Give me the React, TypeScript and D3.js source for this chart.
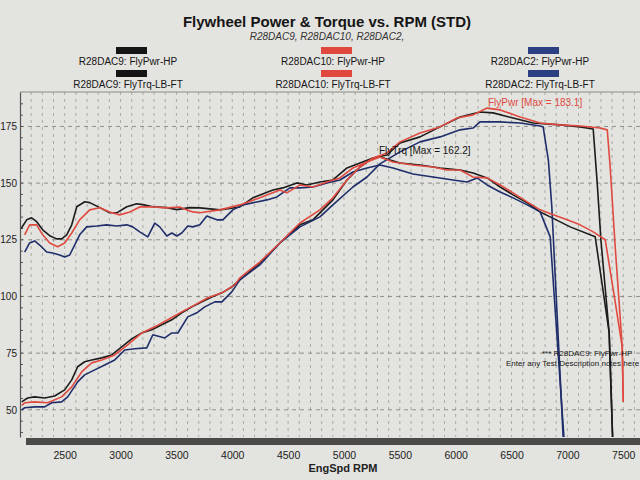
import React, { useEffect, useRef } from "react";
import * as d3 from "d3";

type Pt = [number, number];

// rpm, value pairs
const dac9Pwr: Pt[] = [
  [2115, 53.5], [2168, 55.2], [2231, 55.7], [2321, 55.2], [2410, 56.1], [2500, 58.8],
  [2563, 63.2], [2616, 69], [2679, 71.2], [2742, 72], [2832, 72.9], [2921, 74.2],
  [3011, 77.8], [3100, 81.3], [3190, 83.9], [3280, 85.3], [3369, 87.5], [3459, 89.7],
  [3548, 92.8], [3638, 95.4], [3728, 97.6], [3817, 99.8], [3907, 101.6], [3996, 104.2],
  [4068, 107.3], [4247, 114.8], [4426, 123.6], [4606, 131.6], [4722, 133.8], [4901, 142.6],
  [5027, 151.4], [5143, 157.1], [5260, 161.1], [5385, 162.4], [5502, 167.7], [5681, 170.4],
  [5860, 174.8], [6039, 179.2], [6218, 181.4], [6335, 181], [6514, 178.7], [6693, 176.5],
  [6935, 175.7], [7114, 174.8], [7231, 173.9], [7267, 150], [7300, 125], [7374, 84], [7410, 30],
];
const dac9Trq: Pt[] = [
  [2110, 130], [2160, 133.8], [2204, 134.7], [2249, 133], [2303, 129.4], [2366, 126.8],
  [2428, 125.4], [2473, 125.4], [2518, 127.2], [2563, 131.6], [2608, 139.6], [2680, 141.8],
  [2724, 141.4], [2814, 139.2], [2903, 136.9], [2966, 136.9], [3056, 139.6], [3145, 140.9],
  [3199, 140.5], [3289, 139.6], [3414, 139.2], [3504, 138.3], [3620, 139.2], [3710, 139.1],
  [3889, 138.2], [4068, 139.5], [4184, 143.5], [4364, 147], [4453, 147.9], [4579, 150.1],
  [4668, 149.2], [4785, 150.5], [4901, 151.4], [5027, 156.7], [5143, 158.9], [5260, 161.1],
  [5322, 161.5], [5502, 158.9], [5681, 158], [5860, 156.7], [6039, 155.8], [6156, 154.5],
  [6281, 152.3], [6398, 148.3], [6514, 144.8], [6640, 141.3], [6756, 137.3], [6846, 135.1],
  [7025, 130.7], [7249, 126.3], [7374, 84], [7410, 30],
];
const dac10Pwr: Pt[] = [
  [2115, 52], [2142, 53.1], [2231, 53.5], [2348, 53.1], [2473, 55.7], [2563, 60.1],
  [2652, 66.7], [2742, 70.7], [2832, 72], [2948, 74.2], [3064, 78.6], [3190, 83.9],
  [3306, 86.6], [3423, 89.7], [3548, 93.2], [3665, 96.3], [3781, 99.4], [3907, 101.6],
  [4023, 105.1], [4068, 108.2], [4247, 115.2], [4426, 123.6], [4606, 132.4], [4785, 138.2],
  [4901, 143.5], [5027, 151.4], [5143, 157.1], [5260, 161.1], [5385, 163.3], [5502, 168.2],
  [5681, 172.1], [5860, 174.8], [6012, 178.7], [6156, 180.1], [6281, 183.1], [6398, 182.3],
  [6577, 179.2], [6756, 176.5], [6935, 175.7], [7114, 175.2], [7294, 174.3], [7357, 173.5],
  [7383, 157.1], [7428, 121.9], [7491, 77.8], [7500, 53.5],
];
const dac10Trq: Pt[] = [
  [2142, 127.2], [2186, 131.6], [2249, 131.6], [2303, 127.2], [2366, 123.6], [2437, 121.9],
  [2500, 123.6], [2563, 128], [2634, 133.8], [2724, 138.2], [2814, 139.1], [2903, 137.3],
  [2993, 136], [3082, 137.3], [3172, 139.5], [3289, 139.5], [3414, 139.1], [3530, 139.5],
  [3593, 138.2], [3647, 137.3], [3710, 136.9], [3889, 138.2], [4068, 140.4], [4247, 143.5],
  [4426, 147], [4489, 145.7], [4606, 149.2], [4722, 148.3], [4848, 150.5], [4964, 152.3],
  [5080, 156.7], [5206, 159.3], [5322, 161.5], [5439, 159.3], [5618, 158], [5797, 157.1],
  [5923, 155.8], [6039, 155.8], [6156, 152.7], [6281, 152.3], [6398, 149.2], [6514, 145.7],
  [6640, 141.7], [6756, 138.2], [6873, 136], [6998, 133.8], [7114, 131.6], [7231, 128.5],
  [7339, 125], [7420, 100], [7491, 77.8], [7500, 53.5],
];
const dac2Pwr: Pt[] = [
  [2115, 50], [2142, 50.9], [2231, 51.3], [2321, 51.3], [2384, 53.1], [2473, 53.5],
  [2527, 55.7], [2616, 62.3], [2679, 65.4], [2769, 67.6], [2858, 69.8], [2948, 72],
  [3038, 76.4], [3127, 76.9], [3235, 77.3], [3289, 83.1], [3396, 81.7], [3459, 83.9],
  [3513, 83.9], [3602, 91], [3683, 92.8], [3754, 95.4], [3844, 97.6], [3907, 97.6],
  [3996, 102], [4068, 107.3], [4247, 113.9], [4426, 123.6], [4606, 130.7], [4785, 135.1],
  [4901, 140.4], [5080, 148.3], [5206, 152.7], [5322, 158.5], [5502, 163.8], [5681, 168.2],
  [5860, 170.4], [6039, 173.5], [6156, 174.3], [6218, 177], [6398, 177], [6577, 176.5],
  [6756, 175.2], [6783, 174.8], [6830, 160], [6860, 140], [6970, 30],
];
const dac2Trq: Pt[] = [
  [2142, 119.6], [2186, 123.6], [2231, 124.5], [2276, 122.7], [2339, 119.6], [2392, 119.2],
  [2455, 118.3], [2500, 117.4], [2545, 118.3], [2634, 127.2], [2697, 130.7], [2787, 131.1],
  [2876, 131.6], [2966, 131.1], [3056, 131.6], [3109, 130.7], [3172, 128.5], [3244, 126.3],
  [3306, 132.4], [3351, 130.7], [3414, 126.7], [3459, 128], [3504, 126.7], [3548, 128],
  [3602, 131.1], [3647, 130.7], [3710, 131.6], [3772, 135.5], [3862, 133.8], [3916, 133.8],
  [4005, 138.2], [4095, 140.4], [4220, 141.7], [4310, 142.6], [4399, 143.9], [4516, 147.9],
  [4606, 147.9], [4722, 148.3], [4848, 150.1], [4964, 151.4], [5080, 154.9], [5206, 156.7],
  [5322, 158], [5439, 156.7], [5618, 154], [5797, 152.7], [5976, 151.4], [6102, 150.5],
  [6191, 152.3], [6281, 149.2], [6398, 146.1], [6514, 143.5], [6640, 140.4], [6756, 137.3],
  [6846, 126.3], [6980, 30],
];

const xTicks = [2500, 3000, 3500, 4000, 4500, 5000, 5500, 6000, 6500, 7000, 7500];
const yTicks = [50, 75, 100, 125, 150, 175];

const BLACK = "#1c1c1c";
const RED = "#e04a40";
const BLUE = "#1f2e6b";

const series = [
  { data: dac9Trq, color: BLACK },
  { data: dac9Pwr, color: BLACK },
  { data: dac2Trq, color: BLUE },
  { data: dac2Pwr, color: BLUE },
  { data: dac10Trq, color: RED },
  { data: dac10Pwr, color: RED },
];

const legend = [
  { label: "R28DAC9: FlyPwr-HP", color: "#151515", col: 0, row: 0 },
  { label: "R28DAC9: FlyTrq-LB-FT", color: "#151515", col: 0, row: 1 },
  { label: "R28DAC10: FlyPwr-HP", color: "#e0473d", col: 1, row: 0 },
  { label: "R28DAC10: FlyTrq-LB-FT", color: "#e0473d", col: 1, row: 1 },
  { label: "R28DAC2: FlyPwr-HP", color: "#2b3f82", col: 2, row: 0 },
  { label: "R28DAC2: FlyTrq-LB-FT", color: "#2b3f82", col: 2, row: 1 },
];
const legendX = [130, 335, 542];

export default function App() {
  const ref = useRef<SVGSVGElement>(null);

  useEffect(() => {
    const svg = d3.select(ref.current);
    svg.selectAll("*").remove();

    const width = 640;
    const height = 480;
    const plot = { left: 20, right: 640, top: 92, bottom: 437 };

    const x = d3.scaleLinear().domain([2100, 7650]).range([plot.left, plot.right]);
    const y = d3.scaleLinear().domain([38, 190.2]).range([plot.bottom, plot.top]);

    svg.append("rect").attr("width", width).attr("height", height).attr("fill", "#e3e3df");

    // title block
    svg
      .append("text")
      .attr("x", 327)
      .attr("y", 27)
      .attr("text-anchor", "middle")
      .attr("font-family", "Liberation Sans, Arial, sans-serif")
      .attr("font-size", 15)
      .attr("font-weight", "bold")
      .attr("fill", "#151515")
      .text("Flywheel Power & Torque vs. RPM (STD)");
    svg
      .append("text")
      .attr("x", 327)
      .attr("y", 40)
      .attr("text-anchor", "middle")
      .attr("font-family", "Liberation Sans, Arial, sans-serif")
      .attr("font-size", 10)
      .attr("font-style", "italic")
      .attr("fill", "#333")
      .text("R28DAC9, R28DAC10, R28DAC2,");

    // legend
    const lg = svg
      .append("g")
      .attr("font-family", "Liberation Sans, Arial, sans-serif")
      .attr("font-size", 10);
    legend.forEach((d) => {
      const cx = legendX[d.col];
      const top = 47 + d.row * 23;
      lg.append("rect")
        .attr("x", cx - 14)
        .attr("y", top)
        .attr("width", 31)
        .attr("height", 7)
        .attr("fill", d.color);
      lg.append("text")
        .attr("x", cx - 2)
        .attr("y", top + 18)
        .attr("text-anchor", "middle")
        .attr("fill", "#151515")
        .text(d.label);
    });

    // grid
    const grid = svg.append("g").attr("stroke", "#9a9a96").attr("stroke-width", 0.8);
    d3.range(2200, 7700, 100).forEach((r) => {
      grid
        .append("line")
        .attr("x1", x(r))
        .attr("x2", x(r))
        .attr("y1", plot.top)
        .attr("y2", plot.bottom)
        .attr("stroke-dasharray", "3,4");
    });
    yTicks.forEach((v) => {
      grid
        .append("line")
        .attr("x1", plot.left)
        .attr("x2", plot.right)
        .attr("y1", y(v))
        .attr("y2", y(v))
        .attr("stroke", "#7a7a76")
        .attr("stroke-dasharray", "4,4");
    });

    // frame
    svg
      .append("line")
      .attr("x1", plot.left)
      .attr("x2", plot.right)
      .attr("y1", plot.top)
      .attr("y2", plot.top)
      .attr("stroke", "#8a8a86");
    svg
      .append("rect")
      .attr("x", plot.left + 6)
      .attr("y", plot.bottom + 1)
      .attr("width", plot.right - plot.left)
      .attr("height", 7)
      .attr("fill", "#4a4a48");

    // minor ticks on left axis
    d3.range(40, 190, 5).forEach((v) => {
      svg
        .append("line")
        .attr("x1", plot.left)
        .attr("x2", plot.left + 3)
        .attr("y1", y(v))
        .attr("y2", y(v))
        .attr("stroke", "#555");
    });

    // curves
    svg
      .append("clipPath")
      .attr("id", "plotClip")
      .append("rect")
      .attr("x", plot.left)
      .attr("y", plot.top)
      .attr("width", plot.right - plot.left)
      .attr("height", plot.bottom - plot.top);

    const line = d3
      .line<Pt>()
      .x((d) => x(d[0]))
      .y((d) => y(d[1]));

    const curves = svg.append("g").attr("clip-path", "url(#plotClip)");
    series.forEach((s) => {
      curves
        .append("path")
        .datum(s.data)
        .attr("d", line)
        .attr("fill", "none")
        .attr("stroke", s.color)
        .attr("stroke-width", 1.6)
        .attr("stroke-linejoin", "round");
    });

    // axes
    const yAxis = svg
      .append("g")
      .attr("transform", `translate(${plot.left},0)`)
      .call(d3.axisLeft(y).tickValues(yTicks).tickSize(0).tickPadding(3));
    yAxis.select(".domain").attr("stroke", "#555").attr("stroke-width", 1.2);
    yAxis
      .selectAll("text")
      .attr("font-family", "Liberation Sans, Arial, sans-serif")
      .attr("font-size", 10)
      .attr("fill", "#222");

    const xAxis = svg
      .append("g")
      .attr("transform", `translate(0,${plot.bottom})`)
      .call(d3.axisBottom(x).tickValues(xTicks).tickSize(0).tickPadding(15).tickFormat(d3.format("d")));
    xAxis.select(".domain").remove();
    xAxis
      .selectAll("text")
      .attr("font-family", "Liberation Sans, Arial, sans-serif")
      .attr("font-size", 10.5)
      .attr("fill", "#222");

    svg
      .append("text")
      .attr("x", 343)
      .attr("y", 472)
      .attr("text-anchor", "middle")
      .attr("font-family", "Liberation Sans, Arial, sans-serif")
      .attr("font-size", 11)
      .attr("font-weight", "bold")
      .attr("fill", "#222")
      .text("EngSpd RPM");

    // annotations
    svg
      .append("text")
      .attr("x", 488)
      .attr("y", 106)
      .attr("font-family", "Liberation Sans, Arial, sans-serif")
      .attr("font-size", 10)
      .attr("fill", RED)
      .text("FlyPwr [Max = 183.1]");
    svg
      .append("text")
      .attr("x", 379)
      .attr("y", 154)
      .attr("font-family", "Liberation Sans, Arial, sans-serif")
      .attr("font-size", 10)
      .attr("fill", "#151515")
      .text("FlyTrq [Max = 162.2]");
    svg
      .append("text")
      .attr("x", 542)
      .attr("y", 356)
      .attr("font-family", "Liberation Sans, Arial, sans-serif")
      .attr("font-size", 8)
      .attr("fill", "#151515")
      .text("*** R28DAC9: FlyPwr-HP");
    svg
      .append("text")
      .attr("x", 506)
      .attr("y", 366)
      .attr("font-family", "Liberation Sans, Arial, sans-serif")
      .attr("font-size", 8)
      .attr("fill", "#151515")
      .text("Enter any Test Description notes here");
  }, []);

  return (
    <svg
      ref={ref}
      width={640}
      height={480}
      style={{ position: "absolute", left: 0, top: 0 }}
    ></svg>
  );
}
